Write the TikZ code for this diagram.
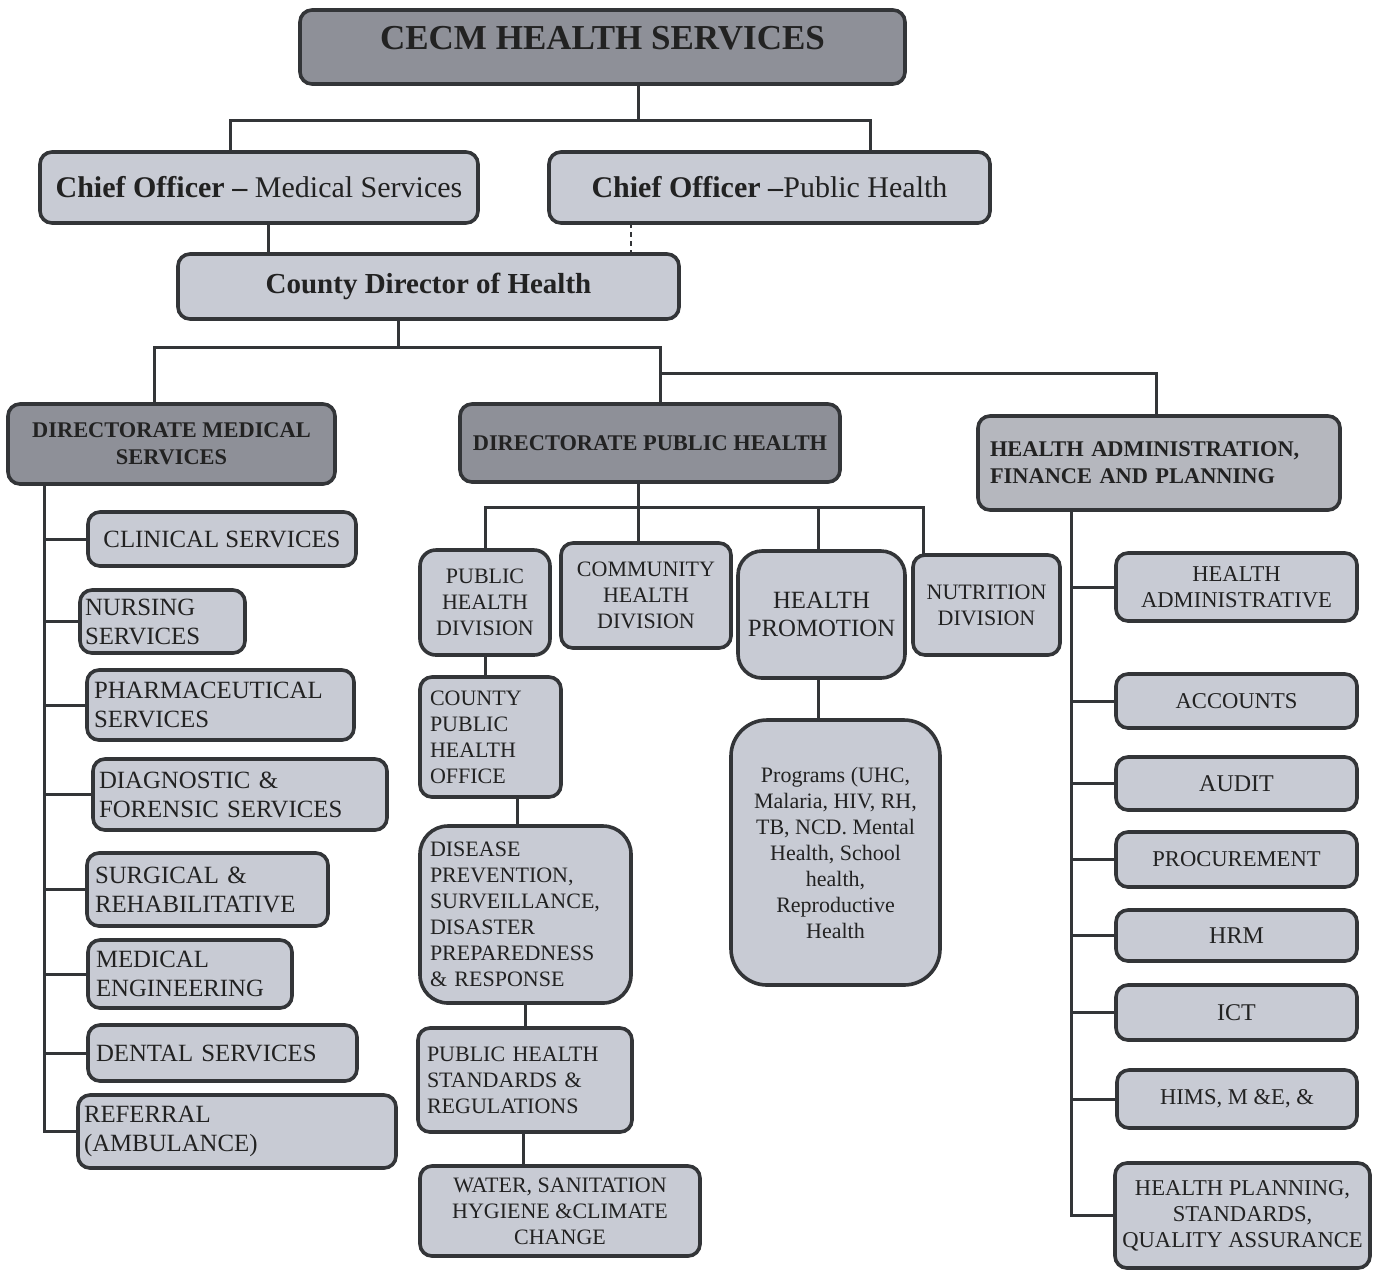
\documentclass[tikz,border=0pt]{standalone}
\usepackage{fontspec}
\setmainfont{Liberation Serif}
\definecolor{edge}{HTML}{333538}
\definecolor{lightf}{HTML}{C8CBD4}
\definecolor{darkf}{HTML}{8E9098}
\definecolor{midf}{HTML}{B5B7BE}
\definecolor{ink}{HTML}{222222}
\newcommand\fTitle{\fontsize{17.5}{21}\selectfont\bfseries}
\newcommand\fChief{\fontsize{15}{18}\selectfont}
\newcommand\fCdh{\fontsize{14.5}{17}\selectfont\bfseries}
\newcommand\fDir{\fontsize{11.2}{13.5}\selectfont\bfseries}
\newcommand\fLeft{\fontsize{12.4}{14.5}\selectfont}
\newcommand\fMid{\fontsize{11}{13}\selectfont}
\newcommand\fProm{\fontsize{12.4}{14}\selectfont}
\newcommand\fRight{\fontsize{11.3}{13}\selectfont}
\newcommand\fRightB{\fontsize{12}{13}\selectfont}
\tikzset{
  base/.style={draw=edge, line width=1.8pt, rounded corners=6pt, text=ink, inner sep=0pt, outer sep=0pt},
  lightb/.style={base, fill=lightf},
  darkb/.style={base, fill=darkf},
  midb/.style={base, fill=midf},
  conn/.style={draw=edge, line width=1.5pt},
}
\newcommand\mkbox[7][]{%
  \pgfmathsetmacro\bw{(#5-#3)*0.5}%
  \pgfmathsetmacro\bh{(#6-#4)*0.5}%
  \node[lightb, align=center, minimum width=\bw pt, minimum height=\bh pt, #1] (#2) at ({(#3+#5)/2},{(#4+#6)/2}) {#7};}
\newcommand\mkleft[8][]{%
  \pgfmathsetmacro\bw{(#5-#3)*0.5}%
  \pgfmathsetmacro\bh{(#6-#4)*0.5}%
  \pgfmathsetmacro\tw{(#5-#3-2*#7)*0.5}%
  \pgfmathsetmacro\px{#7*0.5}%
  \node[lightb, align=left, text width=\tw pt, inner xsep=\px pt, minimum width=\bw pt, minimum height=\bh pt, #1] (#2) at ({(#3+#5)/2},{(#4+#6)/2}) {#8};}
\begin{document}
\begin{tikzpicture}[x=0.5pt,y=-0.5pt]
\useasboundingbox (0,0) rectangle (1374,1271);
\fill[white] (0,0) rectangle (1374,1271);

% top
\mkbox[darkb,font=\fTitle]{cecm}{300}{10}{905}{84}{CECM HEALTH SERVICES\rule[-9pt]{0pt}{9pt}}
\mkbox[font=\fChief]{chms}{40}{152}{478}{223}{\textbf{Chief Officer –} Medical Services}
\mkbox[font=\fChief]{chph}{549}{152}{990}{223}{\textbf{Chief Officer –}Public Health}
\mkbox[font=\fCdh]{cdh}{178}{254}{679}{319}{County Director of Health}
\mkbox[darkb,font=\fDir]{dms}{8}{404}{335}{484}{DIRECTORATE MEDICAL\\SERVICES}
\mkbox[darkb,font=\fDir]{dph}{460}{404}{840}{482}{DIRECTORATE PUBLIC HEALTH}
\mkleft[midb,font=\fDir]{hafp}{978}{416}{1340}{510}{12}{HEALTH ADMINISTRATION,\\FINANCE AND PLANNING}

% left column
\mkbox[font=\fLeft]{clin}{88}{512}{356}{566}{CLINICAL SERVICES}
\mkleft[font=\fLeft]{nurs}{80}{590}{245}{653}{5}{NURSING\\SERVICES}
\mkleft[font=\fLeft]{pharm}{87}{670}{354}{740}{7}{PHARMACEUTICAL\\SERVICES}
\mkleft[font=\fLeft]{diag}{93}{759}{387}{830}{6}{DIAGNOSTIC \&\\FORENSIC SERVICES}
\mkleft[font=\fLeft]{surg}{87}{853}{328}{926}{8}{SURGICAL \&\\REHABILITATIVE}
\mkleft[font=\fLeft]{meng}{88}{940}{292}{1008}{8}{MEDICAL\\ENGINEERING}
\mkleft[font=\fLeft]{dent}{88}{1025}{357}{1081}{8}{DENTAL SERVICES}
\mkleft[font=\fLeft]{ref}{78}{1095}{396}{1168}{6}{REFERRAL\\(AMBULANCE)}

% middle column
\mkbox[font=\fMid,rounded corners=8pt]{phd}{420}{550}{550}{655}{PUBLIC\\HEALTH\\DIVISION}
\mkbox[font=\fMid]{chd}{561}{543}{731}{648}{COMMUNITY\\HEALTH\\DIVISION}
\mkbox[font=\fProm,rounded corners=12pt]{hp}{738}{551}{905}{678}{HEALTH\\PROMOTION}
\mkbox[font=\fMid]{nut}{913}{555}{1060}{655}{NUTRITION\\DIVISION}
\mkbox[font=\fMid,rounded corners=18pt]{prog}{731}{720}{940}{985}{Programs (UHC,\\Malaria, HIV, RH,\\TB, NCD. Mental\\Health, School\\health,\\Reproductive\\Health}
\mkleft[font=\fMid]{cpho}{420}{677}{561}{797}{10}{COUNTY\\PUBLIC\\HEALTH\\OFFICE}
\mkleft[font=\fMid,rounded corners=14pt]{dis}{420}{826}{631}{1003}{10}{DISEASE\\PREVENTION,\\SURVEILLANCE,\\DISASTER\\PREPAREDNESS\\\& RESPONSE}
\mkleft[font=\fMid]{phsr}{418}{1028}{632}{1132}{9}{PUBLIC HEALTH\\STANDARDS \&\\REGULATIONS}
\mkbox[font=\fMid]{wash}{420}{1166}{700}{1256}{WATER, SANITATION\\HYGIENE \&CLIMATE\\CHANGE}

% right column
\mkbox[font=\fRight]{hadm}{1116}{553}{1357}{621}{HEALTH\\ADMINISTRATIVE}
\mkbox[font=\fRight]{acc}{1116}{674}{1357}{728}{ACCOUNTS}
\mkbox[font=\fRightB]{aud}{1116}{757}{1357}{810}{AUDIT}
\mkbox[font=\fRight]{proc}{1116}{832}{1357}{887}{PROCUREMENT}
\mkbox[font=\fRightB]{hrm}{1116}{910}{1357}{961}{HRM}
\mkbox[font=\fRightB]{ict}{1116}{985}{1357}{1040}{ICT}
\mkbox[font=\fRight]{hims}{1117}{1070}{1357}{1128}{HIMS, M \&E, \&}
\mkbox[font=\fRight]{hpl}{1115}{1163}{1370}{1268}{HEALTH PLANNING,\\STANDARDS,\\QUALITY ASSURANCE}

% connectors: top
\coordinate (t1) at (638,120);
\coordinate (t2) at (230,120);
\coordinate (t3) at (870,120);
\draw[conn] (cecm.south -| t1) -- (t1);
\draw[conn] (chms.north -| t2) -- (t2) -- (t3) -- (chph.north -| t3);
\coordinate (c1) at (268,0);
\coordinate (c2) at (631,0);
\draw[conn] (chms.south -| c1) -- (cdh.north -| c1);
\draw[draw=edge, line width=1.1pt, dash pattern=on 2.5pt off 2pt] (chph.south -| c2) -- (cdh.north -| c2);
\coordinate (d0) at (398,347);
\coordinate (d1) at (154,347);
\coordinate (d2) at (660,347);
\coordinate (d3) at (660,373);
\coordinate (d4) at (1156,373);
\draw[conn] (cdh.south -| d0) -- (d0);
\draw[conn] (dms.north -| d1) -- (d1) -- (d2) -- (dph.north -| d2);
\draw[conn] (d3) -- (d4) -- (hafp.north -| d4);

% left trunk
\coordinate (lt) at (44,0);
\draw[conn] (dms.south -| lt) -- (lt |- ref.west) -- (ref.west);
\foreach \n in {clin,nurs,pharm,diag,surg,meng,dent}
  \draw[conn] (\n.west) -- (\n.west -| lt);

% right trunk
\coordinate (rt) at (1071,0);
\draw[conn] (hafp.south -| rt) -- (rt |- hpl.west) -- (hpl.west);
\foreach \n in {hadm,acc,aud,proc,hrm,ict,hims}
  \draw[conn] (\n.west) -- (\n.west -| rt);

% middle
\coordinate (mb) at (638,507);
\coordinate (nx) at (923,507);
\coordinate (hx) at (818,507);
\draw[conn] (dph.south -| mb) -- (chd.north -| mb);
\draw[conn] (phd.north) -- (phd.north |- mb) -- (nx) -- (nut.north -| nx);
\draw[conn] (hx) -- (hp.north -| hx);
\draw[conn] (hp.south -| hx) -- (prog.north -| hx);
\draw[conn] (phd.south) -- (cpho.north -| phd.south);
\coordinate (m2) at (517,0);
\coordinate (m3) at (525,0);
\coordinate (m4) at (523,0);
\draw[conn] (cpho.south -| m2) -- (dis.north -| m2);
\draw[conn] (dis.south -| m3) -- (phsr.north -| m3);
\draw[conn] (phsr.south -| m4) -- (wash.north -| m4);
\end{tikzpicture}
\end{document}
